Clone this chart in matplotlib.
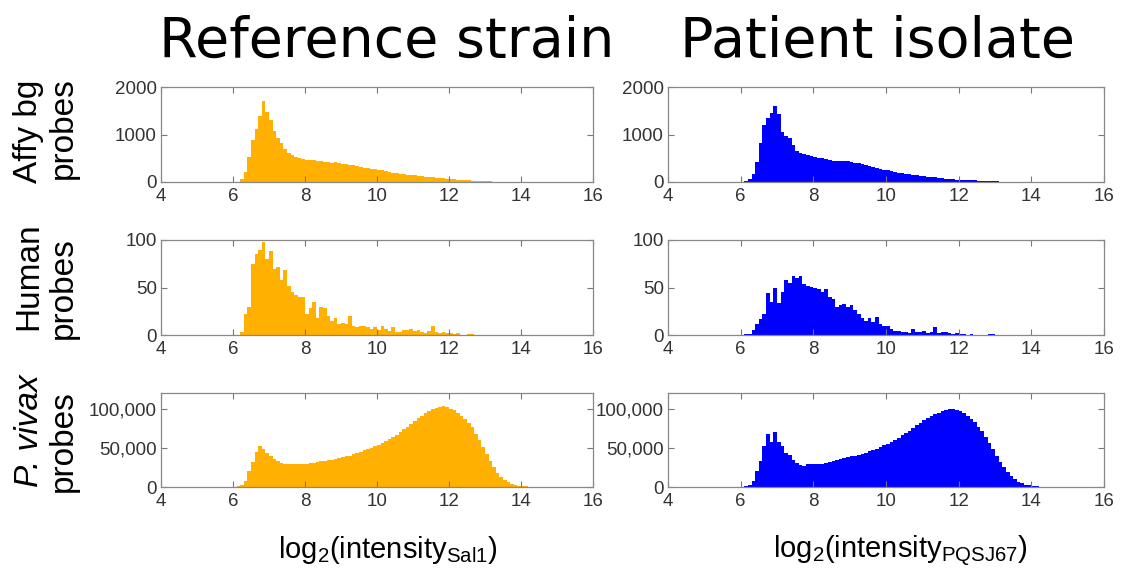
import numpy as np
import matplotlib
matplotlib.use("Agg")
import matplotlib.pyplot as plt

W, H = 1128, 569

plt.rcParams["font.family"] = ["Liberation Sans", "DejaVu Sans"]
plt.rcParams["mathtext.default"] = "regular"

# histogram bins: log2 intensity, 0.1 wide, starting at 6.0
bin_start = 6.0
bin_width = 0.1

affy_sal1 = [0, 0, 60, 220, 520, 880, 1120, 1380, 1700, 1480, 1300, 1080, 920, 820, 700, 610,
             560, 520, 500, 480, 470, 460, 455, 445, 440, 430, 425, 410, 420, 395, 385, 375,
             365, 350, 335, 320, 305, 295, 280, 270, 255, 245, 230, 215, 200, 190, 175, 165,
             155, 145, 140, 130, 120, 112, 105, 98, 90, 82, 75, 68, 62, 55, 48, 44, 40, 35,
             30, 26, 22, 18, 15, 12, 10, 8, 6, 5, 4, 3, 2, 2, 1, 0, 0, 0, 0]
affy_pqsj67 = [0, 20, 60, 170, 420, 820, 1200, 1340, 1450, 1610, 1440, 1060, 960, 930, 780, 650,
               620, 580, 560, 540, 530, 510, 500, 480, 470, 450, 445, 440, 440, 435, 430, 410,
               390, 370, 350, 335, 315, 295, 275, 260, 245, 225, 210, 195, 185, 175, 165, 150,
               140, 130, 125, 115, 105, 95, 88, 80, 70, 62, 56, 50, 46, 42, 38, 35, 32, 28,
               24, 20, 16, 13, 11, 9, 7, 5, 4, 3, 2, 2, 1, 1, 0, 0, 0, 0, 0]

human_sal1 = [0, 0, 3, 22, 30, 75, 85, 90, 98, 80, 88, 70, 72, 58, 68, 52, 45, 42, 40, 40,
              22, 28, 35, 18, 30, 28, 20, 15, 18, 12, 13, 12, 20, 10, 8, 9, 10, 8, 6, 8,
              5, 10, 6, 4, 8, 3, 3, 5, 5, 6, 4, 5, 3, 2, 4, 9, 3, 2, 3, 2, 2, 1, 2, 0, 0,
              1, 1, 0, 0, 0, 0.5, 0, 0, 0, 0, 0, 0, 0, 0, 0, 0, 0, 0, 0, 0]
human_pqsj67 = [0, 1, 1, 5, 12, 17, 22, 44, 35, 50, 34, 45, 58, 55, 62, 60, 62, 54, 52, 51,
                50, 48, 45, 48, 40, 38, 30, 32, 33, 30, 32, 26, 22, 18, 15, 18, 14, 19, 12, 10,
                10, 6, 4, 4, 3, 3, 2, 6, 3, 3, 4, 2, 3, 8, 2, 3, 3, 2, 1, 2, 1, 1, 0.5, 1, 0,
                0, 0.5, 0, 1.5, 1, 0, 0, 0, 0, 0, 0, 0, 0, 0, 0, 0, 0, 0, 0, 0]

# P. vivax counts in thousands
pviv_sal1_k = [0, 1, 3, 8, 20, 32, 45, 52, 48, 44, 40, 36, 33, 31, 30, 29.5, 29, 29, 29, 29.5,
               30, 30.5, 31, 32, 33, 33.5, 34, 35, 35.5, 37, 38, 39, 40, 41.5, 43, 45, 47, 48.5,
               50, 52, 54, 56.5, 59, 61.5, 64, 67, 70, 73.5, 77, 80.5, 84, 87.5, 91, 94, 97, 99,
               101, 102.5, 103, 102, 100, 98, 95, 91, 87, 82, 76, 68, 60, 51, 42, 33, 25, 18,
               13, 9, 6, 4, 2.5, 1.5, 1, 0.7, 0.5, 0.3, 0.2]
pviv_pqsj67_k = [0, 1, 3, 8, 20, 33, 52, 68, 58, 70, 58, 52, 43, 41, 35, 31, 28, 27, 29, 30,
                 29, 29.5, 30, 31, 32, 33, 34, 35.5, 37, 38, 39, 40, 41, 42, 44, 45.5, 47, 49,
                 51, 53, 55, 57.5, 60, 63, 66, 69, 72, 75.5, 79, 82, 85, 88, 91, 93, 95, 96.5,
                 98, 99, 99, 98, 97, 94, 91, 87, 83, 77, 71, 64, 56, 48, 40, 32, 25, 19, 14,
                 10, 7, 5, 3, 2, 1.5, 1, 0.5, 0.3, 0.2]

col_titles = ["Reference strain", "Patient isolate"]
col_xlabels = [r"log$_2$(intensity$_{Sal1}$)", r"log$_2$(intensity$_{PQSJ67}$)"]
col_colors = ["#FFB000", "#0000FF"]

rows = [
    (affy_sal1, affy_pqsj67, 1, 2000, [0, 1000, 2000], ["0", "1000", "2000"]),
    (human_sal1, human_pqsj67, 1, 100, [0, 50, 100], ["0", "50", "100"]),
    (pviv_sal1_k, pviv_pqsj67_k, 1000, 120000, [0, 50000, 100000], ["0", "50,000", "100,000"]),
]

# axes boxes in pixels: (left, right) per column, (top, bottom) per row
col_px = [(161, 593), (668, 1104)]
row_px = [(87, 182), (240, 335), (393, 487)]
title_cx = [387, 877]
xlabel_cx = [388, 900]

fig = plt.figure(figsize=(W / 100, H / 100), dpi=100)

for r, (left_vals, right_vals, scale, ymax, yticks, ylabels) in enumerate(rows):
    top, bot = row_px[r]
    for c, vals in enumerate([left_vals, right_vals]):
        x0, x1 = col_px[c]
        ax = fig.add_axes([x0 / W, 1 - bot / H, (x1 - x0) / W, (bot - top) / H])
        counts = np.asarray(vals, dtype=float) * scale
        edges = bin_start + bin_width * np.arange(len(counts) + 1)
        ax.stairs(counts, edges, fill=True, color=col_colors[c], linewidth=0)
        ax.set_xlim(4, 16)
        ax.set_ylim(0, ymax)
        ax.set_xticks(range(4, 17, 2))
        ax.set_yticks(yticks)
        ax.set_yticklabels(ylabels)
        ax.tick_params(direction="in", top=True, right=True, length=4, width=0.8,
                       color="#777777", labelcolor="#333333", labelsize=13.5)
        ax.tick_params(axis="x", pad=4)
        ax.tick_params(axis="y", pad=3)
        for s in ax.spines.values():
            s.set_color("#888888")
            s.set_linewidth(0.9)

for c in range(2):
    fig.text(title_cx[c] / W, 1 - 57 / H, col_titles[c], ha="center", va="baseline",
             fontsize=40, family="DejaVu Sans")
    fig.text(xlabel_cx[c] / W, 1 - 558 / H, col_xlabels[c], ha="center", va="baseline",
             fontsize=21)

# row labels, two rotated lines each
row_labels = [
    ("Affy bg", "normal", 131),
    ("Human", "normal", 276),
    ("P. vivax", "italic", 431),
]
probes_cy = [128, 288, 441]
for (name, style, yc), py in zip(row_labels, probes_cy):
    fig.text(29 / W, 1 - yc / H, name, rotation=90, ha="center", va="center",
             fontsize=24, style=style)
    fig.text(63 / W, 1 - py / H, "probes", rotation=90,
             ha="center", va="center", fontsize=24)

fig.savefig("out.png", dpi=100)
